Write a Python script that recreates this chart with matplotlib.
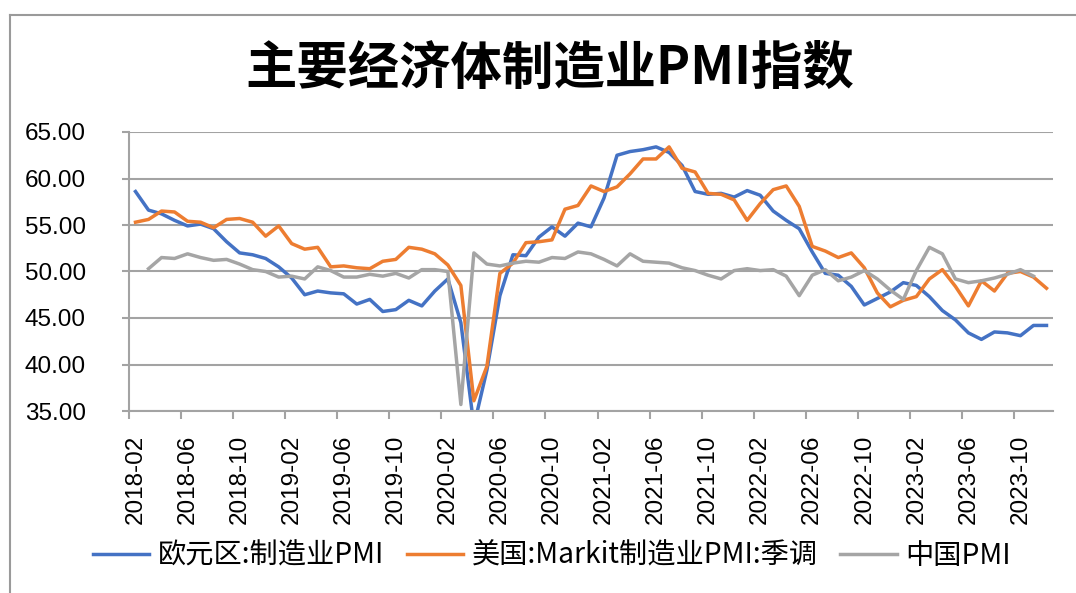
import numpy as np
import pandas as pd
import matplotlib
matplotlib.use("Agg")
import matplotlib.pyplot as plt
from matplotlib.ticker import FuncFormatter
from matplotlib.lines import Line2D

plt.rcParams['font.family'] = ['Liberation Sans', 'Noto Sans CJK SC', 'DejaVu Sans']

# monthly categories, 2018-02 .. 2023-12
months = pd.period_range("2018-02", "2023-12", freq="M").strftime("%Y-%m").tolist()

eurozone = [58.6, 56.6, 56.2, 55.5, 54.9, 55.1, 54.6, 53.2, 52.0, 51.8, 51.4,
            50.5, 49.3, 47.5, 47.9, 47.7, 47.6, 46.5, 47.0, 45.7, 45.9, 46.9, 46.3,
            47.9, 49.2, 44.5, 33.4, 39.4, 47.4, 51.8, 51.7, 53.7, 54.8, 53.8, 55.2,
            54.8, 57.9, 62.5, 62.9, 63.1, 63.4, 62.8, 61.4, 58.6, 58.3, 58.4, 58.0,
            58.7, 58.2, 56.5, 55.5, 54.6, 52.1, 49.8, 49.6, 48.4, 46.4, 47.1, 47.8,
            48.8, 48.5, 47.3, 45.8, 44.8, 43.4, 42.7, 43.5, 43.4, 43.1, 44.2, 44.2]

us_markit = [55.3, 55.6, 56.5, 56.4, 55.4, 55.3, 54.7, 55.6, 55.7, 55.3, 53.8,
             54.9, 53.0, 52.4, 52.6, 50.5, 50.6, 50.4, 50.3, 51.1, 51.3, 52.6, 52.4,
             51.9, 50.7, 48.5, 36.1, 39.8, 49.8, 50.9, 53.1, 53.2, 53.4, 56.7, 57.1,
             59.2, 58.6, 59.1, 60.5, 62.1, 62.1, 63.4, 61.1, 60.7, 58.4, 58.3, 57.7,
             55.5, 57.3, 58.8, 59.2, 57.0, 52.7, 52.2, 51.5, 52.0, 50.4, 47.7, 46.2,
             46.9, 47.3, 49.2, 50.2, 48.4, 46.3, 49.0, 47.9, 49.8, 50.0, 49.4, 48.2]

# China series is plotted from 2018-03 to 2023-11 in the source chart
china = [50.3, 51.5, 51.4, 51.9, 51.5, 51.2, 51.3, 50.8, 50.2, 50.0, 49.4,
         49.5, 49.2, 50.5, 50.1, 49.4, 49.4, 49.7, 49.5, 49.8, 49.3, 50.2, 50.2,
         50.0, 35.7, 52.0, 50.8, 50.6, 50.9, 51.1, 51.0, 51.5, 51.4, 52.1, 51.9,
         51.3, 50.6, 51.9, 51.1, 51.0, 50.9, 50.4, 50.1, 49.6, 49.2, 50.1, 50.3,
         50.1, 50.2, 49.5, 47.4, 49.6, 50.2, 49.0, 49.4, 50.1, 49.2, 48.0, 47.0,
         50.1, 52.6, 51.9, 49.2, 48.8, 49.0, 49.3, 49.7, 50.2, 49.5]

labels = ["欧元区:制造业PMI", "美国:Markit制造业PMI:季调", "中国PMI"]
colors = ["#4472C4", "#ED7D31", "#A5A5A5"]
grid_c = "#a3a3a3"

W, H = 1076, 593
fig = plt.figure(figsize=(W / 100, H / 100), dpi=100)

# outer chart border (left and top edges visible)
fig.add_artist(Line2D([10 / W, 10 / W], [0, 1 - 15 / H], transform=fig.transFigure,
                      color="#9a9a9a", lw=1.5))
fig.add_artist(Line2D([10 / W, 1], [1 - 15 / H, 1 - 15 / H], transform=fig.transFigure,
                      color="#9a9a9a", lw=1.5))

ax = fig.add_axes([129 / W, 1 - 411 / H, (1053 - 129) / W, (411 - 132) / H])

x = np.arange(len(months))
ax.plot(x, eurozone, color=colors[0], lw=2.5, label=labels[0])
ax.plot(x, us_markit, color=colors[1], lw=2.5, label=labels[1])
ax.plot(x[1:1 + len(china)], china, color=colors[2], lw=2.5, label=labels[2])

ax.set_xlim(-0.5, len(months) - 0.5)
ax.set_ylim(35, 65)
ax.set_yticks(np.arange(35, 66, 5))
ax.yaxis.set_major_formatter(FuncFormatter(lambda v, p: f"{v:.2f}"))
ax.yaxis.grid(True, color=grid_c, lw=1.5)
ax.set_axisbelow(True)

ax.set_xticks(x[::4])
ax.set_xticklabels(months[::4], rotation=90)
ax.set_xticks(np.arange(-0.5, len(months), 4), minor=True)
ax.tick_params(axis="x", which="major", length=0, pad=17, labelsize=17.5)
ax.tick_params(axis="x", which="minor", length=6, width=1.5, color=grid_c)
ax.tick_params(axis="y", length=5, width=1.5, color=grid_c, pad=26, labelsize=17.5)

for s in ["top", "right"]:
    ax.spines[s].set_visible(False)
for s in ["left", "bottom"]:
    ax.spines[s].set_color(grid_c)
    ax.spines[s].set_linewidth(1.5)

fig.text(0.511, 1 - 68 / H, "主要经济体制造业PMI指数", ha="center", va="center",
         fontsize=37, fontweight="bold", family=["Noto Sans CJK SC", "DejaVu Sans"])

fig.legend(loc="center", bbox_to_anchor=(0.513, 1 - 556 / H), ncol=3, frameon=False,
           prop={"family": ["Noto Sans CJK SC", "DejaVu Sans"], "size": 20.3},
           handlelength=2.0, handletextpad=0.3, columnspacing=0.8)

fig.savefig("out.png", dpi=100)
